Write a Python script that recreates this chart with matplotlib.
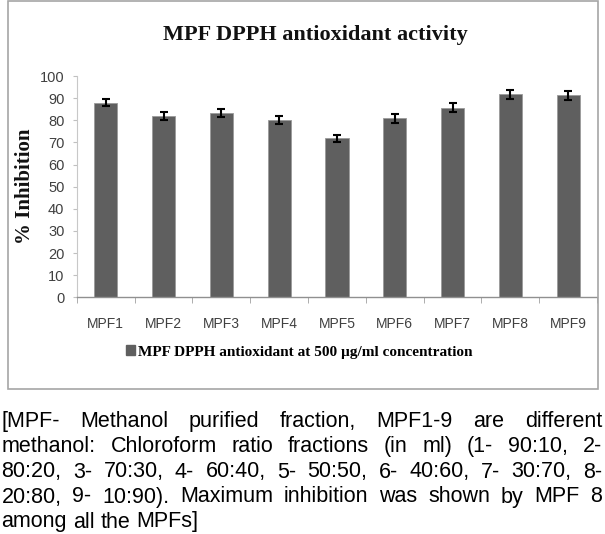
import matplotlib
matplotlib.use("Agg")
import matplotlib.pyplot as plt
from matplotlib.patches import Rectangle, Patch
import numpy as np

categories = ["MPF1", "MPF2", "MPF3", "MPF4", "MPF5", "MPF6", "MPF7", "MPF8", "MPF9"]
inhibition = [88.0, 81.9, 83.3, 80.1, 71.9, 80.8, 85.6, 91.7, 91.2]
errors = [1.6, 2.0, 2.0, 1.7, 1.5, 2.0, 2.0, 2.1, 1.9]
y_ticks = [0, 10, 20, 30, 40, 50, 60, 70, 80, 90, 100]
title = "MPF DPPH antioxidant activity"
y_label = "% Inhibition"
legend_label = "MPF DPPH antioxidant at 500 \u00b5g/ml concentration"
caption_lines = [
    "[MPF- Methanol purified fraction, MPF1-9 are different",
    "methanol: Chloroform ratio fractions (in ml) (1- 90:10, 2-",
    "80:20, 3- 70:30, 4- 60:40, 5- 50:50, 6- 40:60, 7- 30:70, 8-",
    "20:80, 9- 10:90). Maximum inhibition was shown by MPF 8",
    "among all the MPFs]",
]

W, H = 605, 534
DPI = 100
fig = plt.figure(figsize=(W / DPI, H / DPI), dpi=DPI)
fig.patch.set_facecolor("white")


def fx(px):
    return px / W


def fy(py):
    return 1 - py / H


# chart box
fig.patches.append(Rectangle((fx(8), fy(389)), fx(597.5) - fx(8), fy(1) - fy(389),
                             transform=fig.transFigure, fill=False,
                             edgecolor="#a6a6a6", linewidth=1.2, zorder=0))

# axes
ax_l, ax_r, ax_t, ax_b = 76.9, 597.0, 76.0, 297.3
ax = fig.add_axes([fx(ax_l), fy(ax_b), fx(ax_r) - fx(ax_l), fy(ax_t) - fy(ax_b)])
ax.set_facecolor("none")
x = np.arange(len(categories))
ax.bar(x, inhibition, width=0.4, color="#5f5f5f", edgecolor="#9a9a9a", linewidth=0.6,
       yerr=errors, error_kw=dict(ecolor="black", elinewidth=1.5, capsize=3.2, capthick=1.5),
       zorder=2)
ax.set_xlim(-0.5, len(categories) - 0.5)
ax.set_ylim(0, 100)
ax.set_yticks(y_ticks)
ax.set_yticklabels([str(v) for v in y_ticks], fontsize=10.5, color="#404040",
                   family="Liberation Sans")
ax.set_xticks(x)
ax.set_xticklabels(categories, fontsize=10, color="#404040", family="Liberation Sans")
ax.tick_params(axis="x", which="major", length=0, pad=14)
ax.set_xticks(np.arange(len(categories) + 1) - 0.5, minor=True)
ax.tick_params(axis="x", which="minor", length=4, color="#a0a0a0", direction="out")
ax.tick_params(axis="y", length=3, color="#c0c0c0", direction="out", pad=6)
for s in ["top", "right"]:
    ax.spines[s].set_visible(False)
ax.spines["left"].set_color("#c8c8c8")
ax.spines["bottom"].set_color("#909090")
ax.spines["bottom"].set_linewidth(1.0)

# title
fig.text(fx(315), fy(40), title, ha="center", va="baseline", fontsize=16,
         fontweight="bold", family="Liberation Serif", color="#111111")
# y label
fig.text(fx(25), fy(186), y_label, ha="center", va="center", rotation=90,
         fontsize=15, fontweight="bold", family="Liberation Serif", color="#111111")

# legend
handle = Patch(facecolor="#5f5f5f", edgecolor="#5f5f5f")
fig.legend([handle], [legend_label], loc="center", bbox_to_anchor=(fx(299), fy(352)),
           frameon=False, handlelength=0.6, handleheight=0.6, handletextpad=0.2,
           prop=dict(family="Liberation Serif", weight="bold", size=11))

# caption (justified)
renderer = fig.canvas.get_renderer()
baselines = [427, 452, 477.5, 502.5, 527.5]
x0, x1 = 1.5, 602.0
cap_size = 15.5
for i, line in enumerate(caption_lines):
    words = line.split(" ")
    texts = [fig.text(0, fy(baselines[i]), w, ha="left", va="baseline", fontsize=cap_size,
                      family="Liberation Sans", color="black") for w in words]
    widths = [t.get_window_extent(renderer).width for t in texts]
    if i < len(caption_lines) - 1 and len(words) > 1:
        gap = (x1 - x0 - sum(widths)) / (len(words) - 1)
    else:
        sp = fig.text(0, 0, "a a", fontsize=cap_size, family="Liberation Sans")
        sa = fig.text(0, 0, "aa", fontsize=cap_size, family="Liberation Sans")
        gap = sp.get_window_extent(renderer).width - sa.get_window_extent(renderer).width
        sp.remove()
        sa.remove()
    pos = x0
    for t, w in zip(texts, widths):
        t.set_x(fx(pos))
        pos += w + gap

fig.savefig("out.png", dpi=DPI, facecolor="white")
